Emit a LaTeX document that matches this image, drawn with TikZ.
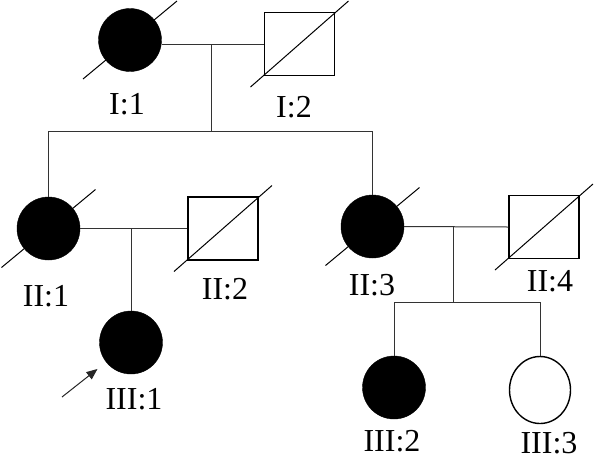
\documentclass[tikz,border=0pt]{standalone}
\usepackage{fontspec}
\setmainfont{Liberation Serif}
\usetikzlibrary{arrows.meta,positioning,calc,shapes.geometric}
\tikzset{
 female/.style={circle, draw=black, fill=black, minimum size=63pt, inner sep=0pt},
 male/.style={rectangle, draw=black, line width=1.4pt, minimum width=70pt, minimum height=63pt, inner sep=0pt},
 healthy/.style={ellipse, draw=black, line width=1.4pt, fill=white, minimum width=61pt, minimum height=67pt, inner sep=0pt},
 tag/.style={font=\fontsize{32}{38}\selectfont, inner sep=0pt},
 link/.style={draw=black!80, line width=1pt},
 deceased/.style={draw=black, line width=1pt},
 proband/.style={-{Triangle[length=11pt,width=9pt]}, draw=black!85, line width=1pt, shorten >=11pt}
}
\begin{document}
\begin{tikzpicture}[x=1pt,y=-1pt]
\useasboundingbox (0,0) rectangle (597,459);
% generation I
\node[female] (I1) at (130,40) {};
\node[male] (I2) at (299.5,44) {};
% generation II
\node[female] (II1) at (48.5,228.5) {};
\node[male] (II2) at (223,228.5) {};
\node[female] (II3) at (372.5,226.5) {};
\node[male] (II4) at (544,227) {};
% generation III
\node[female] (III1) at (131,342.5) {};
\node[female] (III2) at (394,387.5) {};
\node[healthy] (III3) at (540,390) {};
% labels
\node[tag] (tI1) at (127,104) {I:1};
\node[tag] (tI2) at (294,107.5) {I:2};
\node[tag] (tII1) at (46,296) {II:1};
\node[tag] (tII2) at (225,289) {II:2};
\node[tag] (tII3) at (372,285) {II:3};
\node[tag] (tII4) at (550,281) {II:4};
\node[tag] (tIII1) at (134,399) {III:1};
\node[tag] (tIII2) at (392,441) {III:2};
\node[tag] (tIII3) at (549,443) {III:3};
% couples and sibships
\coordinate (m1) at (211,131);
\coordinate (m3) at (453,302);
\draw[link] (I1.east |- I2.west) -- (I2.west);
\draw[link] (m1 |- I2.west) -- (m1);
\draw[link] (II1.north) -- (II1.north |- m1) -- (II3.north |- m1) -- (II3.north);
\draw[link] (II1.east) -- (II2.west);
\draw[link] (III1.north |- II1.east) -- (III1.north);
\draw[link] (II3.east) -- (II4.west);
\draw[link] (m3 |- II4.west) -- (m3);
\draw[link] (III2.north) -- (III2.north |- m3) -- (III3.north |- m3) -- (III3.north);
% deceased marks
\foreach \n in {I1,II1,II3}
  \draw[deceased] ($(\n)+(-47,39)$) -- ($(\n)+(47,-39)$);
\foreach \n in {I2,II2,II4}
  \draw[deceased] ($(\n)+(-49,43)$) -- ($(\n)+(49,-43)$);
% proband
\coordinate (pb) at (62,397);
\draw[proband] (pb) -- (III1);
\end{tikzpicture}
\end{document}
